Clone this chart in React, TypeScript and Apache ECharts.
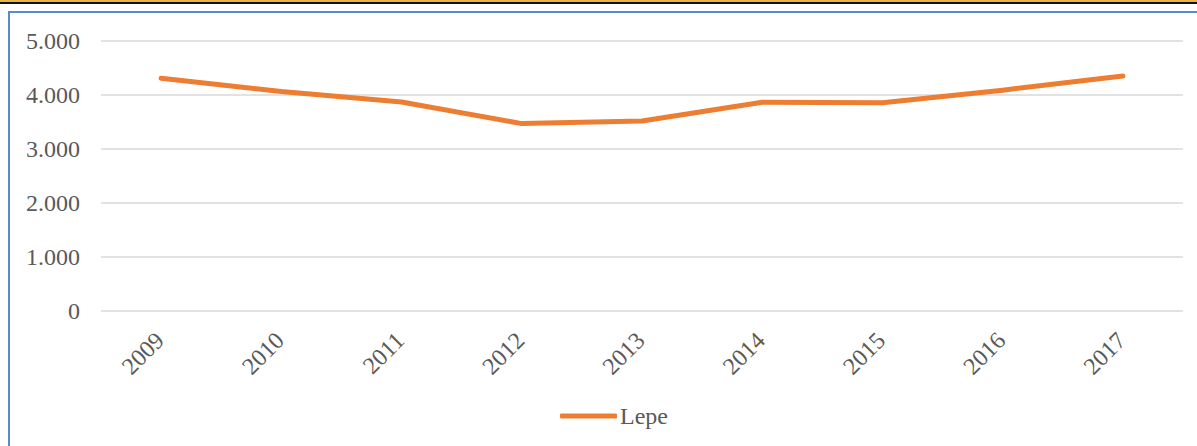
import React, { useEffect, useRef } from "react";
import * as echarts from "echarts";

const years = ["2009", "2010", "2011", "2012", "2013", "2014", "2015", "2016", "2017"];
const lepeValues = [4310, 4065, 3870, 3470, 3520, 3865, 3855, 4090, 4350];
const seriesName = "Lepe";
const yTicks = { min: 0, max: 5000, interval: 1000 };

const fmt = (v: number) => String(v).replace(/\B(?=(\d{3})+(?!\d))/g, ".");

export default function App() {
  const ref = useRef<HTMLDivElement>(null);
  useEffect(() => {
    document.body.style.margin = "0";
    const chart = echarts.init(ref.current!, null, { renderer: "svg" });
    const font = "'Liberation Serif', 'Times New Roman', serif";
    chart.setOption({
      animation: false,
      backgroundColor: "#ffffff",
      textStyle: { fontFamily: font },
      graphic: [
        { type: "rect", shape: { x: 0, y: 0, width: 1197, height: 2 }, style: { fill: "#E9B548" } },
        { type: "rect", shape: { x: 0, y: 2, width: 1197, height: 2 }, style: { fill: "#111111" } },
        { type: "rect", shape: { x: 8, y: 11, width: 1189, height: 2 }, style: { fill: "#5B8ACB" } },
        { type: "rect", shape: { x: 8, y: 11, width: 2, height: 435 }, style: { fill: "#5B8ACB" } },
      ],
      grid: { left: 101, right: 14, top: 41, bottom: 135, containLabel: false },
      legend: {
        data: [{ name: seriesName, icon: "roundRect" }],
        top: 399,
        left: 555,
        itemWidth: 57,
        itemHeight: 5,
        itemGap: 10,
        itemStyle: { color: "#ED7D31" },
        textStyle: { color: "#595959", fontSize: 24, fontFamily: font, padding: [0, 0, 0, -2] },
      },
      xAxis: {
        type: "category",
        data: years,
        boundaryGap: true,
        axisLine: { show: false },
        axisTick: { show: false },
        axisLabel: {
          rotate: 45,
          margin: 24,
          color: "#595959",
          fontSize: 24,
          fontFamily: font,
          interval: 0,
          padding: [0, 2, 0, 0],
        },
      },
      yAxis: {
        type: "value",
        min: yTicks.min,
        max: yTicks.max,
        interval: yTicks.interval,
        axisLine: { show: false },
        axisTick: { show: false },
        splitLine: { lineStyle: { color: "#D9D9D9", width: 1.5 } },
        axisLabel: {
          margin: 21,
          color: "#595959",
          fontSize: 24,
          fontFamily: font,
          formatter: (v: number) => fmt(v),
        },
      },
      series: [
        {
          name: seriesName,
          type: "line",
          data: lepeValues,
          symbol: "none",
          lineStyle: { color: "#ED7D31", width: 5, cap: "round", join: "round" },
          itemStyle: { color: "#ED7D31" },
        },
      ],
    });
    return () => chart.dispose();
  }, []);
  return (
    <div style={{ position: "absolute", left: 0, top: 0 }}>
      <div ref={ref} style={{ width: 1197, height: 446 }} />
    </div>
  );
}
